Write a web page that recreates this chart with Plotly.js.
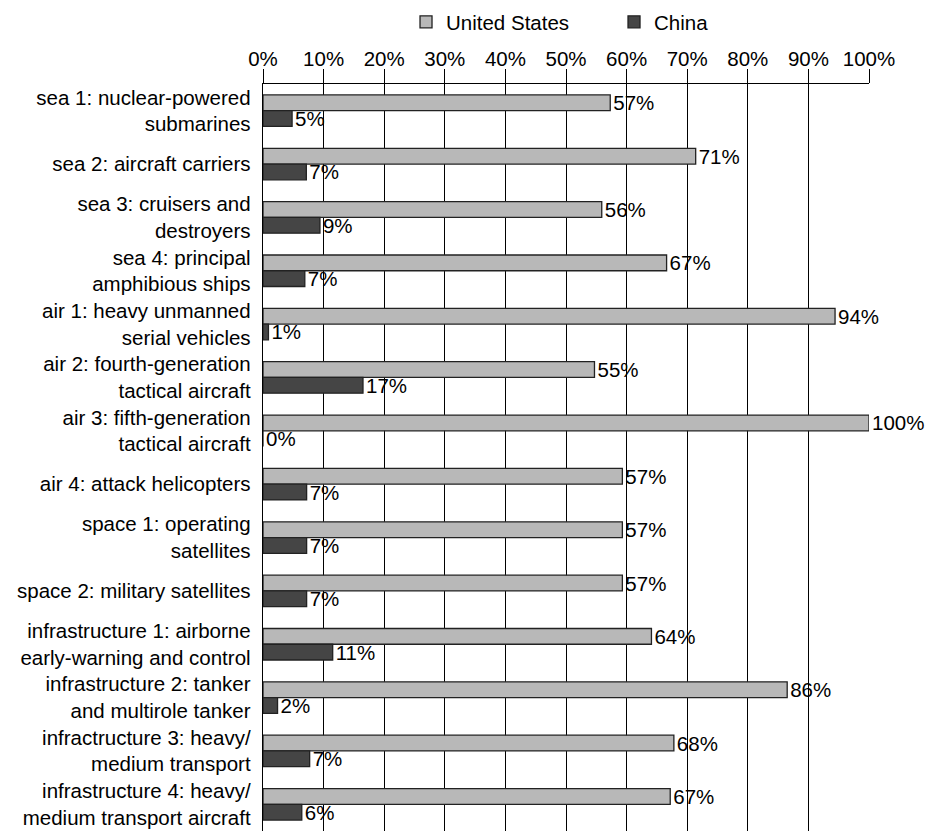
<!DOCTYPE html>
<html>
<head>
<meta charset="utf-8">
<script src="https://cdn.plot.ly/plotly-3.0.1.min.js"></script>
<style>html,body{margin:0;padding:0;background:#fff;}#chart{width:935px;height:831px;}</style>
</head>
<body>
<div id="chart"></div>
<script>
var categories = [
  "sea 1: nuclear-powered<br>submarines",
  "sea 2: aircraft carriers",
  "sea 3: cruisers and<br>destroyers",
  "sea 4: principal<br>amphibious ships",
  "air 1: heavy unmanned<br>serial vehicles",
  "air 2: fourth-generation<br>tactical aircraft",
  "air 3: fifth-generation<br>tactical aircraft",
  "air 4: attack helicopters",
  "space 1: operating<br>satellites",
  "space 2: military satellites",
  "infrastructure 1: airborne<br>early-warning and control",
  "infrastructure 2: tanker<br>and multirole tanker",
  "infractructure 3: heavy/<br>medium transport",
  "infrastructure 4: heavy/<br>medium transport aircraft"
];
var usValues = [57.3, 71.4, 55.9, 66.6, 94.4, 54.7, 100, 59.3, 59.3, 59.3, 64.1, 86.5, 67.8, 67.2];
var usLabels = ["57%","71%","56%","67%","94%","55%","100%","57%","57%","57%","64%","86%","68%","67%"];
var cnValues = [4.8, 7.15, 9.4, 6.9, 0.9, 16.5, 0, 7.2, 7.2, 7.2, 11.5, 2.4, 7.7, 6.4];
var cnLabels = ["5%","7%","9%","7%","1%","17%","0%","7%","7%","7%","11%","2%","7%","6%"];
var xTickVals = [0,10,20,30,40,50,60,70,80,90,100];
var xTickText = ["0%","10%","20%","30%","40%","50%","60%","70%","80%","90%","100%"];

var FONT = "'Liberation Sans', Arial, Helvetica, sans-serif";
var FS = 20.5;

var traces = [
  {
    type: "bar", orientation: "h", name: "United States",
    y: categories, x: usValues, text: usLabels,
    textposition: "outside", cliponaxis: false, constraintext: "none",
    textfont: {family: FONT, size: FS, color: "#000"},
    marker: {color: "#b8b8b8", line: {color: "#222", width: 1.3}},
    hoverinfo: "skip"
  },
  {
    type: "bar", orientation: "h", name: "China",
    y: categories, x: cnValues, text: cnLabels,
    textposition: "outside", cliponaxis: false, constraintext: "none",
    textfont: {family: FONT, size: FS, color: "#000"},
    marker: {color: "#454545", line: {color: "#222", width: 1.3}},
    hoverinfo: "skip"
  }
];

var layout = {
  width: 935, height: 831,
  margin: {l: 263, r: 66, t: 84, b: 0, pad: 0},
  paper_bgcolor: "#fff", plot_bgcolor: "#fff",
  font: {family: FONT, size: FS, color: "#000"},
  barmode: "group", bargap: 0.41, bargroupgap: 0,
  showlegend: true,
  legend: {orientation: "h", x: 0.236, xanchor: "left", y: 1.083, yanchor: "middle",
           entrywidth: 163, entrywidthmode: "pixels",
           font: {family: FONT, size: FS, color: "#000"}, traceorder: "normal", itemclick: false},
  xaxis: {
    side: "top", range: [0, 100], tickvals: xTickVals, ticktext: xTickText,
    showgrid: true, gridcolor: "#000", gridwidth: 1,
    showline: true, linecolor: "#000", linewidth: 1.3,
    ticks: "outside", ticklen: 14, ticklabelstandoff: -5, tickcolor: "#000", tickwidth: 1,
    zeroline: false, fixedrange: true,
    tickfont: {family: FONT, size: FS, color: "#000"}
  },
  yaxis: {
    type: "category", autorange: "reversed",
    showgrid: false, showline: true, linecolor: "#000", linewidth: 1.3,
    ticks: "", ticklabelstandoff: 7, zeroline: false, fixedrange: true,
    tickfont: {family: FONT, size: FS, color: "#000"}
  }
};

Plotly.newPlot("chart", traces, layout, {displayModeBar: false, staticPlot: true});
</script>
</body>
</html>
